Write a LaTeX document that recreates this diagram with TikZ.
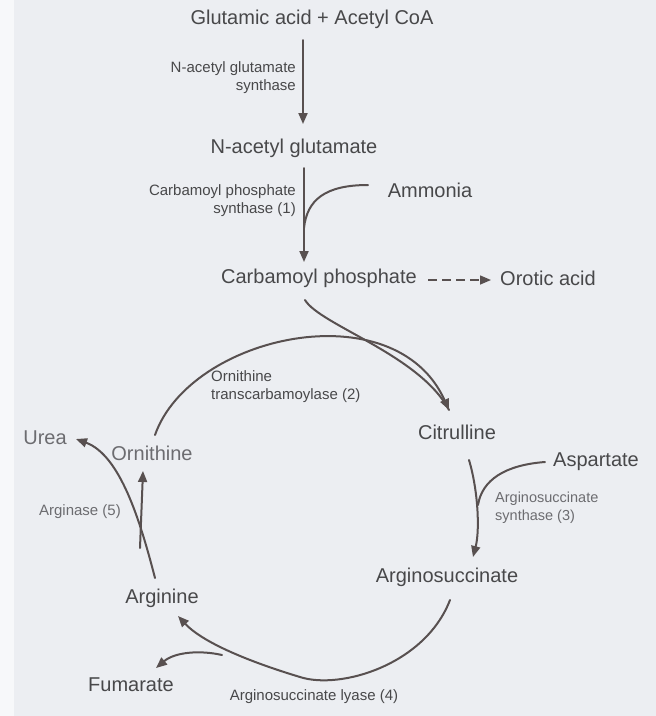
\documentclass[tikz,border=0pt]{standalone}
\usepackage{fontspec}
\setmainfont{Liberation Sans}
\usetikzlibrary{arrows.meta}
\definecolor{bg}{RGB}{236,238,242}
\definecolor{ink}{RGB}{72,72,74}
\definecolor{lin}{RGB}{88,80,80}
\definecolor{faded}{RGB}{108,108,112}
\begin{document}
\begin{tikzpicture}[x=1pt,y=-1pt,
  big/.style={font=\fontsize{20}{24}\selectfont, text=ink, inner sep=0pt},
  small/.style={font=\fontsize{15}{18}\selectfont, text=ink, inner sep=0pt},
  blur/.style={text=faded},
  ln/.style={draw=lin, line width=2pt, line cap=round},
  arr/.style={ln, -{Triangle[length=11pt,width=9pt]}},
]
\fill[bg] (0,0) rectangle (656,716);
\fill[bg!40!white] (0,0) rectangle (14,716);
\useasboundingbox (0,0) rectangle (656,716);

% metabolites
\node[big] (glu) at (312,19) {Glutamic acid + Acetyl CoA};
\node[big] (nag) at (294,148) {N-acetyl glutamate};
\node[big] (amm) at (430,190) {Ammonia};
\node[big] (cp)  at (319,278) {Carbamoyl phosphate};
\node[big] (oro) at (548,278) {Orotic acid};
\node[big] (cit) at (457,432) {Citrulline};
\node[big] (asp) at (596,462) {Aspartate};
\node[big] (asa) at (447,577) {Arginosuccinate};
\node[big] (arg) at (162,598) {Arginine};
\node[big] (fum) at (131,685) {Fumarate};
\node[big,blur] (urea) at (45,438) {Urea};
\node[big,blur] (orn) at (152,453) {Ornithine};

% enzymes
\node[small, align=right, anchor=east] (e0) at (296,78) {N-acetyl glutamate\\synthase};
\node[small, align=right, anchor=east] (e1) at (296,201) {Carbamoyl phosphate\\synthase (1)};
\node[small, align=left, anchor=west] (e2) at (211,387) {Ornithine\\transcarbamoylase (2)};
\node[small, blur, align=left, anchor=west, font=\fontsize{14.5}{18}\selectfont] (e3) at (495,508) {Arginosuccinate\\synthase (3)};
\node[small] (e4) at (314,697) {Arginosuccinate lyase (4)};
\node[small, blur] (e5) at (80,512) {Arginase (5)};

% junction / end coordinates
\coordinate (a0s) at (303,40);   \coordinate (a0e) at (303,124);
\coordinate (a1s) at (304,168);  \coordinate (a1e) at (304,262);
\coordinate (ammS) at (368,185); \coordinate (ammJ) at (304,228);
\coordinate (cpS) at (305,300);  \coordinate (citE) at (449,410);
\coordinate (ornS) at (155,435);
\coordinate (citS) at (469,460); \coordinate (asaE) at (473,557);
\coordinate (aspS) at (545,462); \coordinate (aspJ) at (478,505);
\coordinate (asaS) at (450,600); \coordinate (lyB) at (300,677);
\coordinate (argE) at (178,616);
\coordinate (fumS) at (222,655); \coordinate (fumE) at (156,668);
\coordinate (argS) at (155,578); \coordinate (ureaE) at (76,439);
\coordinate (ornB) at (140,548); \coordinate (ornE) at (143,471);
\coordinate (dS) at (428,280);   \coordinate (dE) at (491,280);

% connectors
\draw[arr] (a0s) -- (a0e);
\draw[arr] (a1s) -- (a1e);
\draw[ln] (ammS) .. controls (325,185) and (307,200) .. (ammJ);
\draw[arr, line width=1.5pt, dash pattern=on 9pt off 5pt, line cap=butt] (dS) -- (dE);
\draw[ln] (cpS) .. controls (320,325) and (420,355) .. (citE);
\draw[arr] (ornS) .. controls (190,335) and (395,290) .. (citE);
\draw[arr] (citS) .. controls (478,490) and (480,530) .. (asaE);
\draw[ln] (aspS) .. controls (505,465) and (482,480) .. (aspJ);
\draw[arr] (asaS) .. controls (425,665) and (340,690) .. (lyB)
           .. controls (260,665) and (205,645) .. (argE);
\draw[arr] (fumS) .. controls (200,650) and (175,652) .. (fumE);
\draw[arr] (argS) .. controls (140,520) and (120,455) .. (ureaE);
\draw[arr] (ornB) -- (ornE);
\end{tikzpicture}
\end{document}
